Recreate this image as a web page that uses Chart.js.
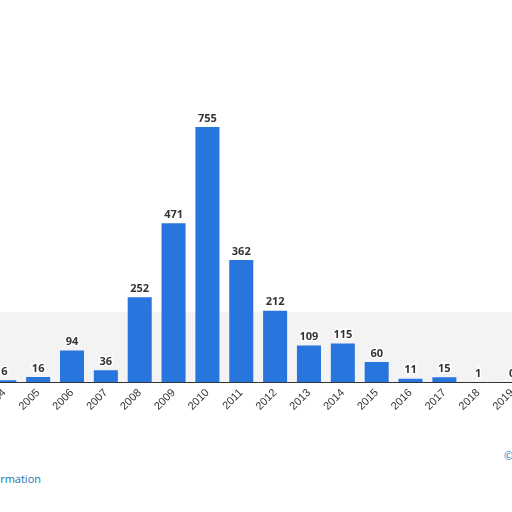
<!DOCTYPE html>
<html><head><meta charset="utf-8">
<script src="https://cdn.jsdelivr.net/npm/chart.js@4"></script>
<style>
html,body{margin:0;padding:0;background:#fff;overflow:hidden;width:512px;height:512px;position:relative;font-family:"Open Sans",sans-serif}
#band{position:absolute;left:0;top:312px;width:512px;height:70px;background:#f3f3f3}
#wrap{position:absolute;left:-17px;top:0;width:546px;height:417px}
#info{position:absolute;left:-75px;top:471px;font-size:11px;color:#1a6fb0}
#copy{position:absolute;left:504px;top:448px;font-size:11px;color:#1a6fb0}
</style></head><body>
<div id="band"></div>
<div id="wrap"><canvas id="c"></canvas></div>
<div id="info">Additional Information</div>
<div id="copy">©</div>
<script>
const categories=["2004","2005","2006","2007","2008","2009","2010","2011","2012","2013","2014","2015","2016","2017","2018","2019"];
const values=[6,16,94,36,252,471,755,362,212,109,115,60,11,15,1,0];
const labelPlugin={id:'lbl',afterDatasetsDraw(ch){const c=ch.ctx;const m=ch.getDatasetMeta(0);c.save();c.font='bold 11px "Open Sans"';c.textAlign='center';c.textBaseline='bottom';
m.data.forEach((b,i)=>{c.lineWidth=3;c.strokeStyle='#fff';c.strokeText(values[i],b.x,b.y-3);c.fillStyle='#333';c.fillText(values[i],b.x,b.y-3);});c.restore();}};
new Chart(document.getElementById('c'),{type:'bar',data:{labels:categories,datasets:[{data:values,backgroundColor:'#2876dd',categoryPercentage:0.71,barPercentage:1}]},
options:{responsive:true,maintainAspectRatio:false,animation:false,layout:{padding:{top:0,left:0,right:0,bottom:0}},
plugins:{legend:{display:false},tooltip:{enabled:false}},
scales:{y:{min:0,max:1131,display:false},
x:{grid:{display:false,drawTicks:false},border:{color:'#333'},ticks:{color:'#333',font:{size:11},maxRotation:45,minRotation:45,padding:4}}}},
plugins:[labelPlugin]});
</script></body></html>
